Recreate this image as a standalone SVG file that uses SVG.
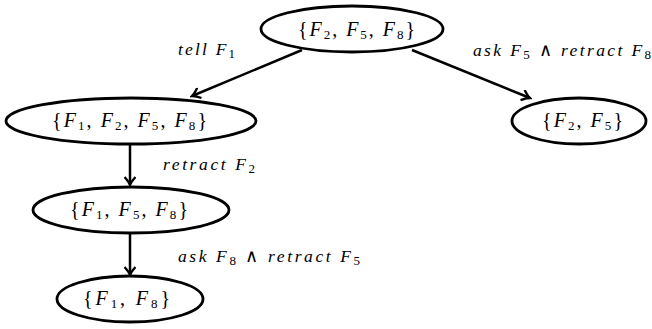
<svg xmlns="http://www.w3.org/2000/svg" width="652" height="329" viewBox="0 0 652 329">
<style>
.n{fill:#fff;stroke:#000;stroke-width:2.8}
.t{font-family:"Liberation Serif",serif;font-size:20px;fill:#000}
.l{font-family:"Liberation Serif",serif;font-size:17.5px;fill:#000;font-style:italic}
.i{font-style:italic}
.s{font-size:13px;font-style:normal}
.u{font-style:normal}
.e{stroke:#000;stroke-width:2.5;fill:none;marker-end:url(#a)}
</style>
<defs>
<marker id="a" markerWidth="12" markerHeight="12" viewBox="-10 -6 12 12" refX="0" refY="0" orient="auto" markerUnits="userSpaceOnUse">
<path d="M-8,-5.5 Q-3,-1 0,0 Q-3,1 -8,5.5" fill="none" stroke="#000" stroke-width="2.3"/>
</marker>
</defs>
<g id="edges">
<line class="e" x1="302" y1="50" x2="192" y2="96"/>
<line class="e" x1="412" y1="50" x2="530" y2="98"/>
<line class="e" x1="130" y1="145" x2="130" y2="185"/>
<line class="e" x1="130" y1="233" x2="130" y2="275"/>
<text class="l" x="178" y="55" textLength="57" lengthAdjust="spacing">tell F<tspan class="s" dy="3">1</tspan></text>
<text class="l" x="473" y="56" textLength="178" lengthAdjust="spacing">ask F<tspan class="s" dy="3">5</tspan><tspan class="u" dy="-3"> ∧ </tspan>retract F<tspan class="s" dy="3">8</tspan></text>
<text class="l" x="163" y="170" textLength="92" lengthAdjust="spacing">retract F<tspan class="s" dy="3">2</tspan></text>
<text class="l" x="178" y="262" textLength="182" lengthAdjust="spacing">ask F<tspan class="s" dy="3">8</tspan><tspan class="u" dy="-3"> ∧ </tspan>retract F<tspan class="s" dy="3">5</tspan></text>
</g>
<g id="n0">
<ellipse class="n" cx="352" cy="29" rx="91" ry="23"/>
<text class="t" x="298" y="36" textLength="117" lengthAdjust="spacing">{<tspan class="i">F</tspan><tspan class="s" dy="3">2</tspan><tspan dy="-3">, </tspan><tspan class="i">F</tspan><tspan class="s" dy="3">5</tspan><tspan dy="-3">, </tspan><tspan class="i">F</tspan><tspan class="s" dy="3">8</tspan><tspan dy="-3">}</tspan></text>
</g>
<g id="n1">
<ellipse class="n" cx="131" cy="121" rx="125" ry="23"/>
<text class="t" x="52" y="127" textLength="155" lengthAdjust="spacing">{<tspan class="i">F</tspan><tspan class="s" dy="3">1</tspan><tspan dy="-3">, </tspan><tspan class="i">F</tspan><tspan class="s" dy="3">2</tspan><tspan dy="-3">, </tspan><tspan class="i">F</tspan><tspan class="s" dy="3">5</tspan><tspan dy="-3">, </tspan><tspan class="i">F</tspan><tspan class="s" dy="3">8</tspan><tspan dy="-3">}</tspan></text>
</g>
<g id="n2">
<ellipse class="n" cx="579" cy="121" rx="67" ry="23"/>
<text class="t" x="542" y="127" textLength="81" lengthAdjust="spacing">{<tspan class="i">F</tspan><tspan class="s" dy="3">2</tspan><tspan dy="-3">, </tspan><tspan class="i">F</tspan><tspan class="s" dy="3">5</tspan><tspan dy="-3">}</tspan></text>
</g>
<g id="n3">
<ellipse class="n" cx="131" cy="210" rx="98" ry="23"/>
<text class="t" x="70" y="216" textLength="118" lengthAdjust="spacing">{<tspan class="i">F</tspan><tspan class="s" dy="3">1</tspan><tspan dy="-3">, </tspan><tspan class="i">F</tspan><tspan class="s" dy="3">5</tspan><tspan dy="-3">, </tspan><tspan class="i">F</tspan><tspan class="s" dy="3">8</tspan><tspan dy="-3">}</tspan></text>
</g>
<g id="n4">
<ellipse class="n" cx="130" cy="299" rx="73" ry="23"/>
<text class="t" x="83" y="305" textLength="87" lengthAdjust="spacing">{<tspan class="i">F</tspan><tspan class="s" dy="3">1</tspan><tspan dy="-3">, </tspan><tspan class="i">F</tspan><tspan class="s" dy="3">8</tspan><tspan dy="-3">}</tspan></text>
</g>
</svg>
